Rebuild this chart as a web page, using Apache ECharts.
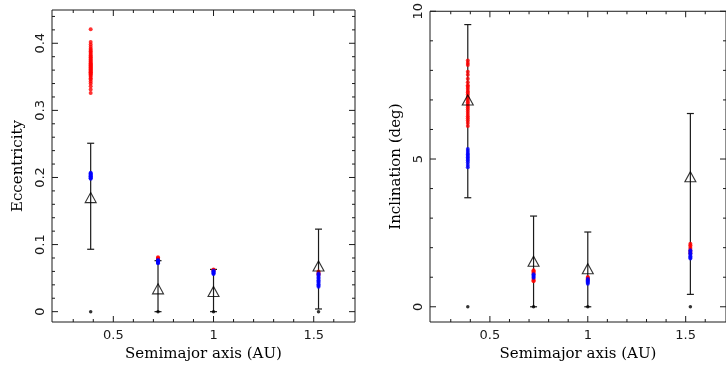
<!DOCTYPE html>
<html>
<head>
<meta charset="utf-8">
<script src="https://cdn.jsdelivr.net/npm/echarts@6/dist/echarts.min.js"></script>
<style>html,body{margin:0;padding:0;background:#fff}#c{width:726px;height:374px}</style>
</head>
<body>
<div id="c"></div>
<script>
// ---- data ----
const semimajor = [0.387, 0.723, 1.000, 1.524];

const eccRed = [
  [0.421, 0.402, 0.398, 0.395, 0.392, 0.390, 0.388, 0.386, 0.384, 0.382, 0.380, 0.379, 0.377, 0.376, 0.374, 0.373, 0.371, 0.370, 0.369, 0.368, 0.367, 0.366, 0.365, 0.364, 0.363, 0.362, 0.361, 0.360, 0.359, 0.358, 0.357, 0.356, 0.355, 0.354, 0.352, 0.350, 0.348, 0.346, 0.343, 0.340, 0.336, 0.331, 0.326],
  [0.081, 0.080, 0.079, 0.078],
  [0.063, 0.062, 0.061],
  [0.060, 0.058, 0.056, 0.055]
];
const eccBlue = [
  [0.198, 0.199, 0.200, 0.201, 0.202, 0.203, 0.204, 0.205, 0.206, 0.207],
  [0.077, 0.076, 0.075, 0.074, 0.073, 0.072],
  [0.061, 0.060, 0.059, 0.058, 0.057, 0.056],
  [0.057, 0.055, 0.053, 0.051, 0.049, 0.047, 0.045, 0.043, 0.041, 0.039, 0.037]
];
const eccMean = [0.170, 0.034, 0.030, 0.068];
const eccLow  = [0.093, 0.000, 0.000, 0.004];
const eccHigh = [0.251, 0.076, 0.063, 0.123];
const eccStart = [0, 0, 0, 0];

const incRed = [
  [8.33, 8.25, 8.18, 7.95, 7.85, 7.72, 7.60, 7.50, 7.45, 7.38, 7.30, 7.25, 7.18, 7.10, 7.05, 6.98, 6.92, 6.86, 6.80, 6.74, 6.68, 6.60, 6.52, 6.45, 6.38, 6.30, 6.22, 6.12],
  [1.24, 1.20, 1.16, 1.12, 0.94, 0.90, 0.86],
  [1.01, 0.98, 0.95, 0.92],
  [2.13, 2.08, 2.02, 1.96, 1.90, 1.85, 1.80]
];
const incBlue = [
  [4.72, 4.80, 4.88, 4.95, 5.00, 5.05, 5.10, 5.15, 5.20, 5.27, 5.34],
  [1.10, 1.06, 1.02, 0.98],
  [0.94, 0.90, 0.86, 0.82, 0.78],
  [1.91, 1.86, 1.81, 1.76, 1.71, 1.67, 1.63]
];
const incMean = [7.00, 1.54, 1.29, 4.40];
const incLow  = [3.69, 0.00, 0.00, 0.42];
const incHigh = [9.55, 3.07, 2.53, 6.54];
const incStart = [0, 0, 0, 0];

const xMajor = [0.5, 1, 1.5];
const xMinor = [0.3, 0.4, 0.6, 0.7, 0.8, 0.9, 1.1, 1.2, 1.3, 1.4, 1.6];
const eccMajor = [0, 0.1, 0.2, 0.3, 0.4];
const eccMinor = [0.02, 0.04, 0.06, 0.08, 0.12, 0.14, 0.16, 0.18, 0.22, 0.24, 0.26, 0.28, 0.32, 0.34, 0.36, 0.38, 0.42, 0.44];
const incMajor = [0, 5, 10];
const incMinor = [1, 2, 3, 4, 6, 7, 8, 9];

// ---- chart ----
const chart = echarts.init(document.getElementById('c'));
const XMIN = 0.194, XMAX = 1.706;
const ECC = [-0.0154, 0.4496];
const INC = [-0.515, 10.0];
const INK = '#1a1a1a';
const LABEL_FONT = {fontFamily: 'DejaVu Sans', fontSize: 13, color: INK};
const NAME_FONT = {fontFamily: 'DejaVu Serif', fontSize: 15, color: '#000'};
const MAJOR_LEN = 6, MINOR_LEN = 3;

function fmt(v) { return String(+v.toFixed(2)); }

function xAxis(grid) {
  return {
    type: 'value', gridIndex: grid, min: XMIN, max: XMAX, position: 'bottom',
    splitLine: {show: false}, axisLine: {show: false, onZero: false}, axisTick: {show: false},
    axisLabel: Object.assign({show: true, customValues: xMajor, margin: 7, formatter: fmt}, LABEL_FONT),
    name: 'Semimajor axis (AU)', nameLocation: 'middle', nameGap: 24, nameTextStyle: NAME_FONT
  };
}
function yAxis(grid, range, major, name) {
  return {
    type: 'value', gridIndex: grid, min: range[0], max: range[1], position: 'left',
    splitLine: {show: false}, axisLine: {show: false, onZero: false}, axisTick: {show: false},
    axisLabel: Object.assign({show: true, customValues: major, rotate: 90, margin: 5, formatter: fmt}, LABEL_FONT),
    name: name, nameLocation: 'middle', nameGap: 26, nameRotate: 90, nameTextStyle: NAME_FONT
  };
}

// tick marks on all four sides, placed through the axes' scales
function tickSeries(idx, yRange, yMajor, yMinor) {
  const rows = []
    .concat(xMajor.map(v => [0, v, MAJOR_LEN]))
    .concat(xMinor.map(v => [0, v, MINOR_LEN]))
    .concat(yMajor.map(v => [1, v, MAJOR_LEN]))
    .concat(yMinor.map(v => [1, v, MINOR_LEN]));
  return {
    type: 'custom', xAxisIndex: idx, yAxisIndex: idx, silent: true,
    data: rows,
    encode: {x: 1, y: 1},
    renderItem: function (params, api) {
      const cs = params.coordSys;
      const dim = api.value(0), v = api.value(1), len = api.value(2);
      const st = {stroke: INK, lineWidth: 1};
      if (dim === 0) {
        const px = api.coord([v, yRange[0]])[0];
        return {type: 'group', children: [
          {type: 'line', shape: {x1: px, y1: cs.y + cs.height, x2: px, y2: cs.y + cs.height - len}, style: st},
          {type: 'line', shape: {x1: px, y1: cs.y, x2: px, y2: cs.y + len}, style: st}
        ]};
      }
      const py = api.coord([XMIN, v])[1];
      return {type: 'group', children: [
        {type: 'line', shape: {x1: cs.x, y1: py, x2: cs.x + len, y2: py}, style: st},
        {type: 'line', shape: {x1: cs.x + cs.width, y1: py, x2: cs.x + cs.width - len, y2: py}, style: st}
      ]};
    }
  };
}

function panelSeries(idx, red, blue, mean, low, high, start) {
  const cloud = (arr) => {
    const pts = [];
    arr.forEach((list, i) => list.forEach(v => pts.push([semimajor[i], v])));
    return pts;
  };
  return [
    {
      type: 'custom', xAxisIndex: idx, yAxisIndex: idx,
      data: semimajor.map((a, i) => [a, low[i], high[i]]),
      encode: {x: 0, y: [1, 2]},
      renderItem: function (params, api) {
        const p1 = api.coord([api.value(0), api.value(1)]);
        const p2 = api.coord([api.value(0), api.value(2)]);
        const st = {stroke: INK, lineWidth: 1.2};
        const w = 3.5;
        return {type: 'group', children: [
          {type: 'line', shape: {x1: p1[0], y1: p1[1], x2: p2[0], y2: p2[1]}, style: st},
          {type: 'line', shape: {x1: p1[0] - w, y1: p1[1], x2: p1[0] + w, y2: p1[1]}, style: st},
          {type: 'line', shape: {x1: p2[0] - w, y1: p2[1], x2: p2[0] + w, y2: p2[1]}, style: st}
        ]};
      }
    },
    {type: 'scatter', xAxisIndex: idx, yAxisIndex: idx, symbol: 'circle', symbolSize: 4,
     itemStyle: {color: '#ff0000'}, data: cloud(red)},
    {type: 'scatter', xAxisIndex: idx, yAxisIndex: idx, symbol: 'circle', symbolSize: 4,
     itemStyle: {color: '#0000ff'}, data: cloud(blue)},
    {type: 'scatter', xAxisIndex: idx, yAxisIndex: idx, symbol: 'triangle', symbolSize: [11, 10],
     itemStyle: {color: 'rgba(0,0,0,0)', borderColor: '#000', borderWidth: 1.1},
     data: semimajor.map((a, i) => [a, mean[i]])},
    {type: 'scatter', xAxisIndex: idx, yAxisIndex: idx, symbol: 'circle', symbolSize: 3.5,
     itemStyle: {color: '#000'}, data: semimajor.map((a, i) => [a, start[i]])}
  ];
}

chart.setOption({
  animation: false,
  grid: [
    {left: 52, top: 10, width: 303, height: 312, show: true, borderColor: INK, borderWidth: 1, backgroundColor: 'transparent'},
    {left: 430, top: 10, width: 303, height: 312, show: true, borderColor: INK, borderWidth: 1, backgroundColor: 'transparent'}
  ],
  xAxis: [xAxis(0), xAxis(1)],
  yAxis: [yAxis(0, ECC, eccMajor, 'Eccentricity'), yAxis(1, INC, incMajor, 'Inclination (deg)')],
  series: [tickSeries(0, ECC, eccMajor, eccMinor), tickSeries(1, INC, incMajor, incMinor)]
    .concat(panelSeries(0, eccRed, eccBlue, eccMean, eccLow, eccHigh, eccStart))
    .concat(panelSeries(1, incRed, incBlue, incMean, incLow, incHigh, incStart))
});
</script>
</body>
</html>
